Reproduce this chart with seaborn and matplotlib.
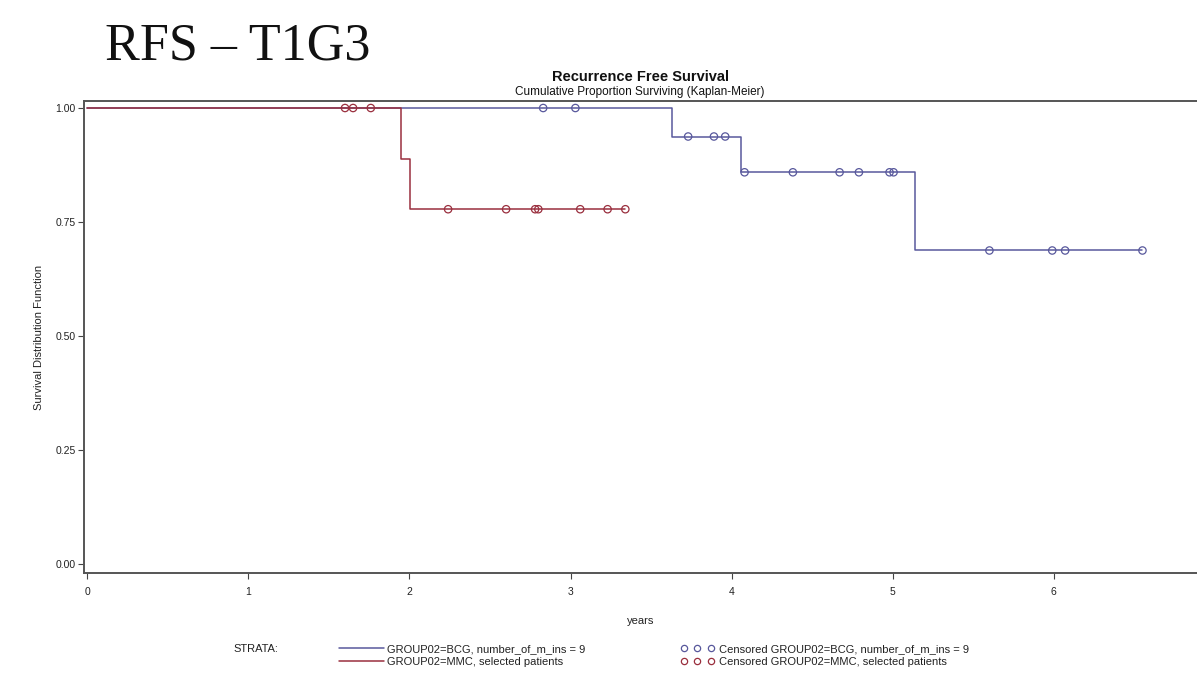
import matplotlib
matplotlib.use("Agg")
import matplotlib.pyplot as plt
from matplotlib.lines import Line2D
import seaborn as sns
import pandas as pd

# ---- data ----
bcg_times = [0.0, 3.63, 4.06, 5.14, 6.55]
bcg_surv = [1.0, 0.9375, 0.859, 0.6875, 0.6875]
bcg_cens_t = [2.83, 3.03, 3.73, 3.89, 3.96, 4.08, 4.38, 4.67, 4.79, 4.98, 5.005, 5.60, 5.99, 6.07, 6.55]
bcg_cens_s = [1.0, 1.0, 0.9375, 0.9375, 0.9375, 0.859, 0.859, 0.859, 0.859, 0.859, 0.859, 0.6875, 0.6875, 0.6875, 0.6875]

mmc_times = [0.0, 1.95, 2.005, 3.34]
mmc_surv = [1.0, 0.889, 0.778, 0.778]
mmc_cens_t = [1.60, 1.65, 1.76, 2.24, 2.60, 2.78, 2.80, 3.06, 3.23, 3.34]
mmc_cens_s = [1.0, 1.0, 1.0, 0.778, 0.778, 0.778, 0.778, 0.778, 0.778, 0.778]

x_ticks = [0, 1, 2, 3, 4, 5, 6]
y_ticks = [0.0, 0.25, 0.5, 0.75, 1.0]
y_tick_labels = ["0.00", "0.25", "0.50", "0.75", "1.00"]

label_bcg = "GROUP02=BCG, number_of_m_ins = 9"
label_mmc = "GROUP02=MMC, selected patients"

BLUE = "#58589c"
RED = "#9a2f3e"

sns.set_theme(style="white")
plt.rcParams["font.family"] = ["Liberation Sans", "DejaVu Sans"]

fig = plt.figure(figsize=(11.97, 6.79), dpi=100)
ax = fig.add_axes([0.0702, 0.156, 0.93, 0.695])

bcg_df = pd.DataFrame({"t": bcg_times, "s": bcg_surv})
mmc_df = pd.DataFrame({"t": mmc_times, "s": mmc_surv})
sns.lineplot(data=bcg_df, x="t", y="s", drawstyle="steps-post", estimator=None,
             color=BLUE, linewidth=1.1, ax=ax)
sns.lineplot(data=mmc_df, x="t", y="s", drawstyle="steps-post", estimator=None,
             color=RED, linewidth=1.1, ax=ax)

sns.scatterplot(x=bcg_cens_t, y=bcg_cens_s, marker="o", s=28, facecolor="none",
                edgecolor=BLUE, linewidth=0.9, ax=ax, zorder=5)
sns.scatterplot(x=mmc_cens_t, y=mmc_cens_s, marker="o", s=28, facecolor="none",
                edgecolor=RED, linewidth=0.9, ax=ax, zorder=5)

ax.set_xlim(-0.02, 6.89)
ax.set_ylim(-0.02, 1.015)
ax.set_xticks(x_ticks)
ax.set_xticklabels([str(v) for v in x_ticks], fontsize=7.5, color="#222")
ax.set_yticks(y_ticks)
ax.set_yticklabels(y_tick_labels, fontsize=7.5, color="#222")
ax.tick_params(axis="both", direction="out", length=4, width=0.8, colors="#444",
               labelcolor="#222", left=True, bottom=True)
ax.tick_params(axis="x", pad=6)
ax.tick_params(axis="y", pad=2)
for side in ["left", "bottom", "top"]:
    ax.spines[side].set_visible(True)
    ax.spines[side].set_color("#555")
    ax.spines[side].set_linewidth(1.4)
ax.spines["right"].set_visible(False)

ax.set_xlabel("years", fontsize=8, color="#222", labelpad=14)
ax.set_ylabel("Survival Distribution Function", fontsize=8, color="#222", labelpad=8)

# titles
fig.text(105 / 1197, 1 - 47 / 679, "RFS – T1G3", family=["Liberation Serif", "DejaVu Serif"],
         fontsize=37.5, va="center", ha="left", color="#111")
fig.text(640 / 1197, 1 - 77 / 679, "Recurrence Free Survival", fontsize=10.5,
         fontweight="bold", ha="center", va="center", color="#111")
fig.text(640 / 1197, 1 - 92 / 679, "Cumulative Proportion Surviving (Kaplan-Meier)",
         fontsize=8.5, ha="center", va="center", color="#111")

# legend
fig.text(233 / 1197, 1 - 649 / 679, "STRATA:", fontsize=8, ha="left", va="center", color="#222")
line_handles = [Line2D([], [], color=BLUE, lw=1.1), Line2D([], [], color=RED, lw=1.1)]
leg1 = fig.legend(line_handles, [label_bcg, label_mmc], loc="center left",
                  bbox_to_anchor=(333 / 1197, 1 - 655.5 / 679), frameon=False, fontsize=8,
                  handlelength=4.1, handletextpad=0.3, labelspacing=0.25, borderpad=0)
cens_handles = [Line2D([], [], ls="none", marker="o", mfc="none", mec=BLUE, ms=4.5, mew=0.9),
                Line2D([], [], ls="none", marker="o", mfc="none", mec=RED, ms=4.5, mew=0.9)]
leg2 = fig.legend(cens_handles, ["Censored " + label_bcg, "Censored " + label_mmc],
                  loc="center left", bbox_to_anchor=(675 / 1197, 1 - 655.5 / 679),
                  frameon=False, fontsize=8, numpoints=3, handlelength=3.0,
                  handletextpad=0.5, labelspacing=0.25, borderpad=0)
for lg in (leg1, leg2):
    for t in lg.get_texts():
        t.set_color("#222")

fig.savefig("out.png", dpi=100)
